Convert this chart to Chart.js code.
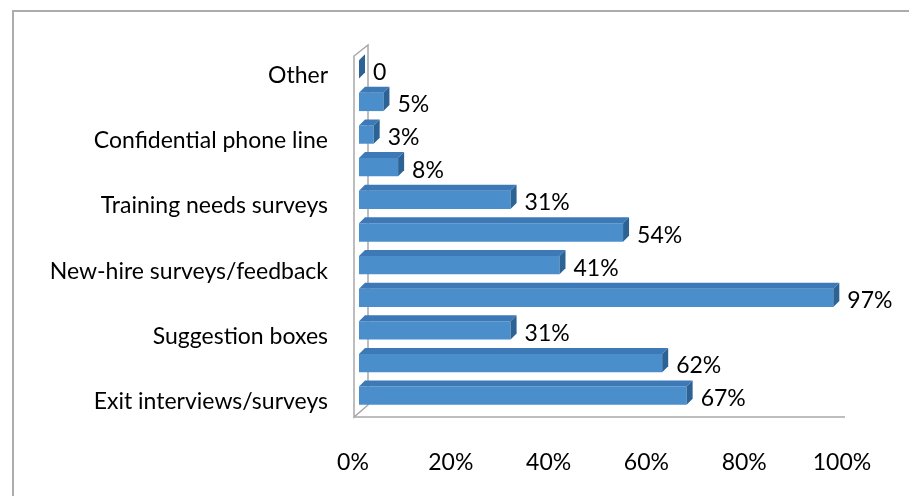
<!DOCTYPE html>
<html>
<head>
<meta charset="utf-8">
<script src="https://cdn.jsdelivr.net/npm/chart.js@4/dist/chart.umd.min.js"></script>
<style>
  body { margin: 0; overflow: hidden; background: #fff; }
  #frame { position: absolute; left: 12px; top: 10px; width: 1000px; height: 600px; border: 2px solid #acacac; }
  #wrap { position: absolute; left: 0; top: 0; width: 909px; height: 496px; }
</style>
</head>
<body>
<div id="frame"></div>
<div id="wrap"><canvas id="chart"></canvas></div>
<script>
// every other category name is hidden in the original, so those stay blank
const categories = ['Other', '', 'Confidential phone line', '', 'Training needs surveys', '',
    'New-hire surveys/feedback', '', 'Suggestion boxes', '', 'Exit interviews/surveys'];
const values = [0, 5, 3, 8, 31, 54, 41, 97, 31, 62, 67];
const valueLabels = ['0', '5%', '3%', '8%', '31%', '54%', '41%', '97%', '31%', '62%', '67%'];
const xTicks = [0, 20, 40, 60, 80, 100];

const FONT = 'Lato';
const FONT_SIZE = 23;
const DEPTH = 6;

// draws the back wall and floor of the 3d look
const wallPlugin = {
    id: 'wall',
    beforeDatasetsDraw(chart) {
        const ctx = chart.ctx;
        const a = chart.chartArea;
        const x0 = a.left - 5;
        const y0 = a.bottom + 5;
        ctx.save();
        ctx.strokeStyle = '#a8a8a8';
        ctx.lineWidth = 1.5;
        // wall slab
        ctx.beginPath();
        ctx.moveTo(x0, y0);
        ctx.lineTo(x0, a.top + 3);
        ctx.lineTo(x0 + 14, a.top - 8);
        ctx.lineTo(x0 + 14, y0 - 12);
        ctx.closePath();
        ctx.stroke();
        // floor front edge
        ctx.beginPath();
        ctx.moveTo(x0, y0);
        ctx.lineTo(a.right - 3, y0);
        ctx.stroke();
        ctx.restore();
    }
};

// top and side faces of the bars plus value labels
const bars3dPlugin = {
    id: 'bars3d',
    afterDatasetsDraw(chart) {
        const ctx = chart.ctx;
        const meta = chart.getDatasetMeta(0);
        ctx.save();
        meta.data.forEach((bar, i) => {
            const top = bar.y - bar.height / 2;
            const bottom = bar.y + bar.height / 2;
            const left = bar.base;
            const right = bar.x;
            // top face
            ctx.fillStyle = '#3c79b6';
            ctx.beginPath();
            ctx.moveTo(left, top);
            ctx.lineTo(right, top);
            ctx.lineTo(right + DEPTH, top - DEPTH);
            ctx.lineTo(left + DEPTH, top - DEPTH);
            ctx.closePath();
            ctx.fill();
            // side face
            ctx.fillStyle = '#2c6294';
            ctx.beginPath();
            ctx.moveTo(right, top);
            ctx.lineTo(right + DEPTH, top - DEPTH);
            ctx.lineTo(right + DEPTH, bottom - DEPTH);
            ctx.lineTo(right, bottom);
            ctx.closePath();
            ctx.fill();

            ctx.fillStyle = '#000';
            ctx.font = FONT_SIZE + 'px ' + FONT;
            ctx.textAlign = 'left';
            ctx.textBaseline = 'middle';
            ctx.fillText(valueLabels[i], right + 14, bar.y + 3);
        });
        ctx.restore();
    }
};

new Chart(document.getElementById('chart'), {
    type: 'bar',
    data: {
        labels: categories,
        datasets: [{
            data: values,
            backgroundColor: '#4a8fcb',
            borderWidth: 0,
            barPercentage: 0.56,
            categoryPercentage: 1
        }]
    },
    options: {
        indexAxis: 'y',
        responsive: true,
        maintainAspectRatio: false,
        animation: false,
        layout: { padding: { left: 0, right: 61, top: 53, bottom: 0 } },
        plugins: {
            legend: { display: false },
            tooltip: { enabled: false }
        },
        scales: {
            x: {
                min: 0,
                max: 100,
                afterBuildTicks(scale) {
                    scale.ticks = xTicks.map(v => ({ value: v }));
                },
                afterFit(scale) {
                    scale.height = 84;
                    scale.paddingLeft = 0;
                    scale.paddingRight = 0;
                },
                grid: { display: false, drawTicks: false },
                border: { display: false },
                ticks: {
                    padding: 37,
                    labelOffset: -6,
                    color: '#000',
                    font: { family: FONT, size: FONT_SIZE },
                    callback: v => v + '%'
                }
            },
            y: {
                afterFit(scale) { scale.width = 359; },
                grid: { display: false, drawTicks: false },
                border: { display: false },
                ticks: {
                    padding: 31,
                    labelOffset: 6,
                    autoSkip: false,
                    color: '#000',
                    font: { family: FONT, size: FONT_SIZE }
                }
            }
        }
    },
    plugins: [wallPlugin, bars3dPlugin]
});
</script>
</body>
</html>
